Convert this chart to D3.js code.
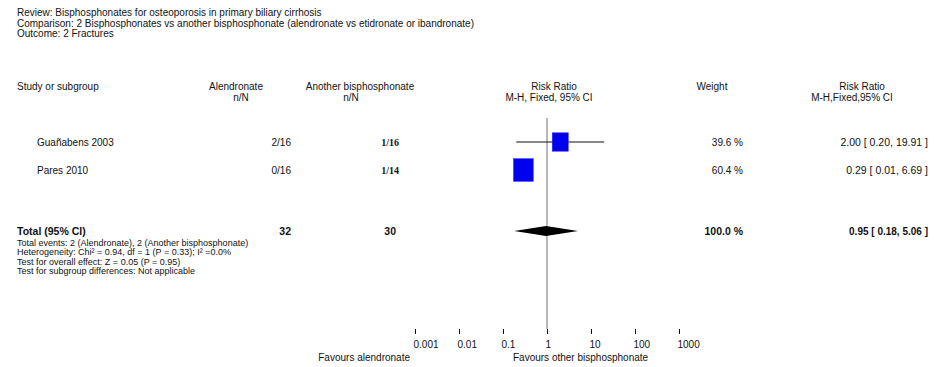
<!DOCTYPE html>
<html>
<head>
<meta charset="utf-8">
<script src="https://cdn.jsdelivr.net/npm/d3@7/dist/d3.min.js"></script>
<style>
  html, body { margin: 0; padding: 0; background: #fff; }
  svg text { font-family: "Liberation Sans Narrow", "Arial Narrow", "Liberation Sans", Arial, sans-serif; fill: #111; }
</style>
</head>
<body>
<svg id="chart" width="934" height="367"></svg>
<script>
// Analysis header
const headerLines = [
  "Review:    Bisphosphonates for osteoporosis in primary biliary cirrhosis",
  "Comparison: 2 Bisphosphonates vs another bisphosphonate (alendronate vs etidronate or ibandronate)",
  "Outcome: 2 Fractures"
];

// Study rows
const studies = ["Guañabens 2003", "Pares 2010"];
const alenEvents = [2, 0];
const alenTotal = [16, 16];
const otherEvents = [1, 1];
const otherTotal = [16, 14];
const weights = [39.6, 60.4];
const rrValues = [2.00, 0.29];
const rrLower = [0.20, 0.01];
const rrUpper = [19.91, 6.69];
const ciDrawn = [true, false];

// Pooled estimate
const totalLabel = "Total (95% CI)";
const totalAlen = 32;
const totalOther = 30;
const totalWeight = 100.0;
const totalRR = 0.95;
const totalLower = 0.18;
const totalUpper = 5.06;

const footLines = [
  "Total events: 2 (Alendronate), 2 (Another bisphosphonate)",
  "Heterogeneity: Chi\u00B2 = 0.94, df = 1 (P = 0.33); I\u00B2 =0.0%",
  "Test for overall effect: Z = 0.05 (P = 0.95)",
  "Test for subgroup differences: Not applicable"
];

// Axis
const tickValues = [0.001, 0.01, 0.1, 1, 10, 100, 1000];
const tickLabels = ["0.001", "0.01", "0.1", "1", "10", "100", "1000"];
const favoursLeft = "Favours alendronate";
const favoursRight = "Favours other bisphosphonate";

const svg = d3.select("#chart");
const fs = 10;
const wide = "'Liberation Sans', Arial, sans-serif";

const x = d3.scaleLog().domain([0.001, 1000]).range([415, 679]);

// header block
svg.append("g").selectAll("text").data(headerLines).join("text")
  .attr("x", 17).attr("y", (d, i) => 16 + i * 10.5)
  .attr("font-size", fs).text(d => d);

// column headers
const colHead = svg.append("g").attr("font-size", fs);
function head(t, xx, yy, anchor) {
  colHead.append("text").attr("x", xx).attr("y", yy)
    .attr("text-anchor", anchor || "middle").text(t);
}
head("Study or subgroup", 17, 90, "start");
head("Alendronate", 236, 90);
head("n/N", 241, 101);
head("Another bisphosphonate", 360, 90);
head("n/N", 351, 101);
head("Risk Ratio", 554, 90);
head("M-H, Fixed, 95% CI", 549, 101);
head("Weight", 712, 90);
head("Risk Ratio", 862, 90);
head("M-H,Fixed,95% CI", 852, 101);

// null line at RR = 1
svg.append("line")
  .attr("x1", x(1)).attr("x2", x(1))
  .attr("y1", 118).attr("y2", 329)
  .attr("stroke", "#b8b8b8").attr("stroke-width", 2);

const rowY = d3.scalePoint().domain(studies).range([142, 170]);
const fmt2 = d3.format(".2f");
const rowsG = svg.append("g");

studies.forEach((s, i) => {
  const y = rowY(s);
  rowsG.append("text").attr("x", 37).attr("y", y + 3.5).attr("font-size", fs).text(s);
  rowsG.append("text").attr("x", 291).attr("y", y + 3.5).attr("font-size", fs)
    .attr("text-anchor", "end").text(`${alenEvents[i]}/${alenTotal[i]}`);
  rowsG.append("text").attr("x", 399).attr("y", y + 3.5).attr("font-size", fs)
    .attr("text-anchor", "end").attr("font-weight", "bold")
    .style("font-family", "'Liberation Serif', serif")
    .text(`${otherEvents[i]}/${otherTotal[i]}`);
  rowsG.append("text").attr("x", 743).attr("y", y + 3.5).attr("font-size", fs)
    .attr("text-anchor", "end").text(`${weights[i].toFixed(1)} %`);
  rowsG.append("text").attr("x", 928).attr("y", y + 3.5).attr("font-size", 10.5)
    .attr("text-anchor", "end").style("font-family", wide)
    .text(`${fmt2(rrValues[i])} [ ${fmt2(rrLower[i])}, ${fmt2(rrUpper[i])} ]`);

  if (ciDrawn[i]) {
    rowsG.append("line")
      .attr("x1", x(rrLower[i])).attr("x2", x(rrUpper[i]))
      .attr("y1", y).attr("y2", y)
      .attr("stroke", "#111").attr("stroke-width", 1.2);
  }
  const side = 2.55 * Math.sqrt(weights[i]);
  const h = side * 1.15;
  rowsG.append("rect")
    .attr("x", x(rrValues[i]) - side / 2).attr("y", y - h / 2)
    .attr("width", side).attr("height", h)
    .attr("fill", "#0000f0").attr("stroke", "#3030ff").attr("stroke-width", 0.5);
});

// pooled row
const ty = 231;
const totG = svg.append("g").attr("font-weight", "bold").attr("font-size", 10.5);
totG.append("text").attr("x", 17).attr("y", ty + 4).text(totalLabel);
totG.append("text").attr("x", 291).attr("y", ty + 4).attr("text-anchor", "end").text(totalAlen);
totG.append("text").attr("x", 396).attr("y", ty + 4).attr("text-anchor", "end").text(totalOther);
totG.append("text").attr("x", 743).attr("y", ty + 4).attr("text-anchor", "end")
  .text(`${totalWeight.toFixed(1)} %`);
totG.append("text").attr("x", 928).attr("y", ty + 4).attr("text-anchor", "end")
  .attr("font-size", 10)
  .text(`${fmt2(totalRR)} [ ${fmt2(totalLower)}, ${fmt2(totalUpper)} ]`);

const dh = 5;
svg.append("path")
  .attr("d", `M${x(totalLower)},${ty} L${x(totalRR)},${ty - dh} L${x(totalUpper)},${ty} L${x(totalRR)},${ty + dh} Z`)
  .attr("fill", "#000");

// footnotes
svg.append("g").selectAll("text").data(footLines).join("text")
  .attr("x", 17).attr("y", (d, i) => 246 + i * 9.3)
  .attr("font-size", 9).style("font-family", wide).text(d => d);

// axis
const axis = d3.axisBottom(x).tickValues(tickValues)
  .tickFormat((d, i) => tickLabels[i]).tickSize(5).tickPadding(7);
const ag = svg.append("g").attr("transform", "translate(0,329)").call(axis);
ag.select(".domain").remove();
ag.selectAll(".tick line").attr("stroke", "#111");
ag.selectAll(".tick text").attr("text-anchor", "start").attr("dx", -2)
  .attr("font-size", fs).attr("fill", "#111")
  .style("font-family", "'Liberation Sans Narrow', 'Liberation Sans', Arial, sans-serif");

svg.append("text").attr("x", 410).attr("y", 361).attr("font-size", fs)
  .attr("text-anchor", "end").text(favoursLeft);
svg.append("text").attr("x", 513).attr("y", 361).attr("font-size", fs)
  .attr("text-anchor", "start").text(favoursRight);
</script>
</body>
</html>
